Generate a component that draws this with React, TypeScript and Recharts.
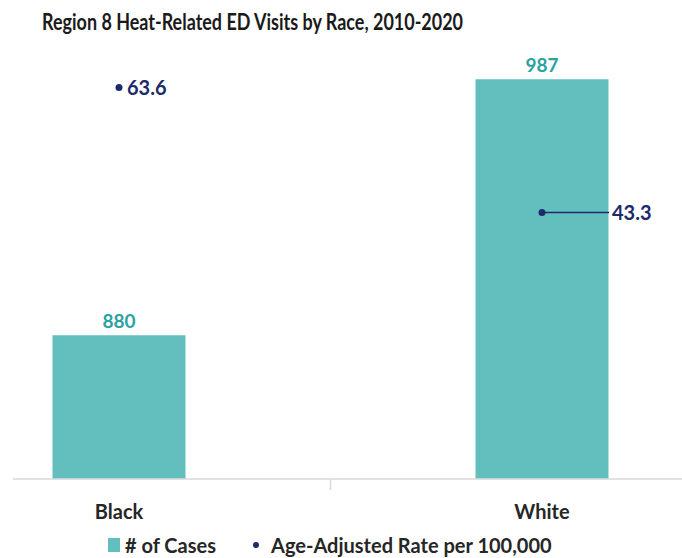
import React from "react";
import { ComposedChart, Bar, Line, XAxis, YAxis, LabelList, Legend } from "recharts";

// Region 8 heat-related ED visits, 2010-2020
const races = ["Black", "White"];
const caseCounts = [880, 987];
const ageAdjustedRates = [63.6, 43.3];

const data = races.map((race, i) => ({
  race,
  pos: i,
  cases: caseCounts[i],
  rate: ageAdjustedRates[i],
}));

const TEAL = "#63BFBE";
const TEAL_TEXT = "#2AA3A0";
const NAVY = "#1C2A6B";
const FONT = "Lato, 'Open Sans', sans-serif";

// leader-line length for each rate label (0 = label sits next to the dot)
const leaderLength: Record<string, number> = { Black: 0, White: 67 };

const RaceTick = (props: any) => {
  const { x, y, payload } = props;
  const v = payload?.value;
  if (v === 0.5) {
    return <line x1={x} x2={x} y1={y} y2={y + 11} stroke="#D9D9D9" strokeWidth={1.5} />;
  }
  const label = races[v];
  if (!label) return null;
  return (
    <text x={x} y={y + 32} textAnchor="middle" dominantBaseline="central"
      fill="#262626" fontSize={20} fontWeight={700} fontFamily={FONT}>
      {label}
    </text>
  );
};

const RateLabel = (props: any) => {
  const { x, y, value, index } = props;
  const race = races[index];
  const lead = leaderLength[race] ?? 0;
  const tx = x + (lead > 0 ? lead + 3 : 8);
  return (
    <g>
      {lead > 0 && (
        <line x1={x} y1={y} x2={x + lead} y2={y} stroke={NAVY} strokeWidth={1.5} />
      )}
      <text x={tx} y={y} dominantBaseline="central" textAnchor="start"
        fill={NAVY} fontSize={20} fontWeight={700} fontFamily={FONT}>
        {value}
      </text>
    </g>
  );
};

const LegendContent = () => (
  <div style={{ position: "relative", width: 682, height: 26, fontFamily: FONT, fontWeight: 700, fontSize: 20, color: "#262626" }}>
    <div style={{ position: "absolute", left: 108, top: 6, width: 12, height: 14, background: TEAL }} />
    <div style={{ position: "absolute", left: 125, top: 0, lineHeight: "26px", whiteSpace: "nowrap" }}># of Cases</div>
    <div style={{ position: "absolute", left: 253, top: 10, width: 6, height: 6, borderRadius: 3, background: NAVY }} />
    <div style={{ position: "absolute", left: 271, top: 0, lineHeight: "26px", whiteSpace: "nowrap" }}>Age-Adjusted Rate per 100,000</div>
  </div>
);

export default function App() {
  return (
    <div style={{ position: "absolute", left: 0, top: 0, width: 682, height: 558, background: "#fff" }}>
      <svg width={682} height={40} style={{ position: "absolute", left: 0, top: 0 }}>
        <text x={42} y={21} dominantBaseline="central" textLength={421} lengthAdjust="spacingAndGlyphs"
          fontFamily={FONT} fontWeight={700} fontSize={22} fill="#1a1a1a">
          Region 8 Heat-Related ED Visits by Race, 2010-2020
        </text>
      </svg>
      <ComposedChart width={682} height={558} data={data} margin={{ top: 48, right: 0, bottom: 0, left: 13 }}>
        <XAxis dataKey="pos" type="number" domain={[-0.2506, 1.331]} ticks={[0, 0.5, 1]} interval={0}
          allowDataOverflow height={79} tickSize={0} tickMargin={0} tick={<RaceTick />}
          axisLine={{ stroke: "#D9D9D9", strokeWidth: 1.5 }} tickLine={false} />
        <YAxis yAxisId="cases" domain={[820, 1000]} hide allowDataOverflow />
        <YAxis yAxisId="rate" orientation="right" domain={[0, 70]} hide />
        <Legend layout="horizontal" verticalAlign="middle" align="center" content={<LegendContent />}
          wrapperStyle={{ position: "absolute", top: 532, left: 0, width: 682 }} />
        <Bar yAxisId="cases" dataKey="cases" name="# of Cases" fill={TEAL} barSize={133} isAnimationActive={false}>
          <LabelList dataKey="cases" position="top" offset={7} fill={TEAL_TEXT} fontSize={19} fontWeight={700} fontFamily={FONT} />
        </Bar>
        <Line yAxisId="rate" dataKey="rate" name="Age-Adjusted Rate per 100,000" stroke="none"
          dot={{ r: 3.5, fill: NAVY, stroke: "none" }} activeDot={false} isAnimationActive={false}>
          <LabelList dataKey="rate" content={<RateLabel />} />
        </Line>
      </ComposedChart>
    </div>
  );
}
